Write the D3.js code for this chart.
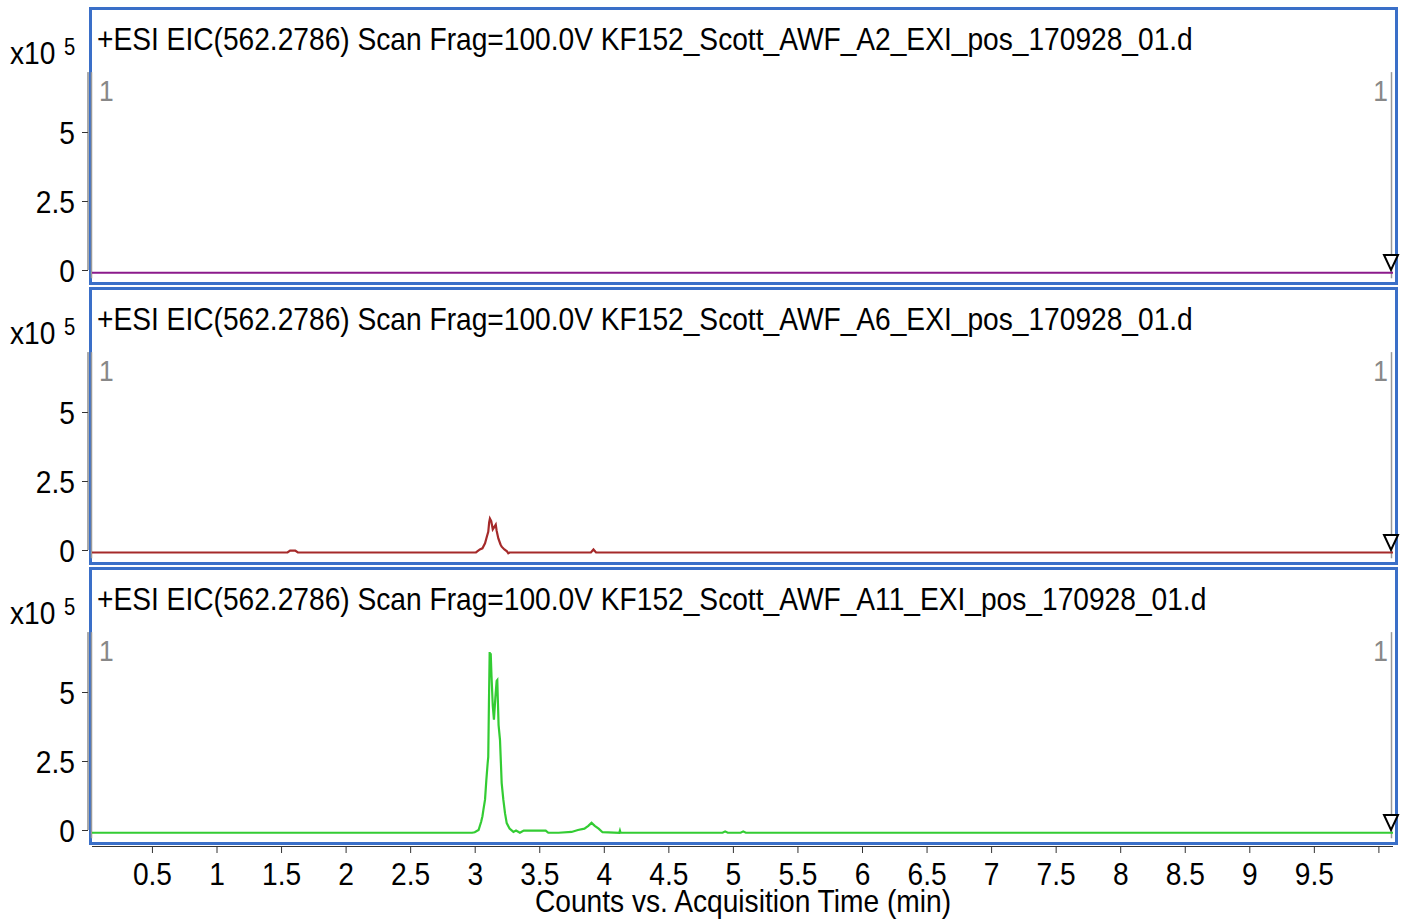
<!DOCTYPE html>
<html>
<head>
<meta charset="utf-8">
<script src="https://cdn.jsdelivr.net/npm/d3@7"></script>
<style>
  body { margin: 0; background: #fff; }
  text { font-family: 'Liberation Sans', Arial, sans-serif; }
</style>
</head>
<body>
<svg id="chart" width="1409" height="920"></svg>
<script>
// sample names shown in each panel title
var samples = ["A2", "A6", "A11"];
var colors = ["#8b1a8b", "#a52a2a", "#33cc33"];

// retention time (min) / counts (x10^5)
var a2_time = [0.03, 10.12];
var a2_val = [-0.1, -0.1];

var a6_time = [0.03, 1.55, 1.57, 1.61, 1.63, 3.01, 3.04, 3.06, 3.08, 3.095, 3.105, 3.112, 3.118, 3.128, 3.14, 3.15, 3.163, 3.17, 3.183, 3.2, 3.209, 3.23, 3.25, 3.26, 3.27, 3.9, 3.92, 3.94, 10.12];
var a6_val = [-0.09, -0.09, -0.02, -0.02, -0.09, -0.09, 0.02, 0.06, 0.24, 0.5, 0.66, 1.0, 1.14, 1.05, 0.75, 0.82, 0.92, 0.7, 0.42, 0.2, 0.12, 0.02, -0.05, -0.12, -0.09, -0.09, 0.02, -0.09, -0.09];

var a11_time = [0.03, 2.98, 3.0, 3.03, 3.05, 3.06, 3.067, 3.08, 3.09, 3.1, 3.105, 3.11, 3.116, 3.12, 3.124, 3.13, 3.14, 3.149, 3.16, 3.17, 3.175, 3.18, 3.185, 3.196, 3.209, 3.222, 3.235, 3.248, 3.27, 3.3, 3.32, 3.35, 3.38, 3.55, 3.57, 3.65, 3.75, 3.8, 3.85, 3.88, 3.905, 3.93, 3.96, 3.99, 4.12, 4.125, 4.13, 4.92, 4.94, 4.96, 5.06, 5.08, 5.1, 10.12];
var a11_val = [-0.1, -0.1, -0.08, 0.0, 0.3, 0.5, 0.72, 1.1, 1.8, 2.4, 2.65, 4.5, 6.45, 6.2, 6.4, 5.6, 4.5, 4.0, 4.8, 5.4, 5.43, 4.6, 3.8, 3.26, 1.7, 1.09, 0.6, 0.25, 0.05, -0.07, -0.02, -0.1, -0.02, -0.02, -0.1, -0.1, -0.07, 0.0, 0.05, 0.15, 0.26, 0.15, 0.05, -0.08, -0.1, -0.02, -0.1, -0.1, -0.05, -0.1, -0.1, -0.05, -0.1, -0.1];

var series_time = [a2_time, a6_time, a11_time];
var series_val = [a2_val, a6_val, a11_val];

var y_ticks = [0, 2.5, 5];
var x_ticks = [0.5, 1, 1.5, 2, 2.5, 3, 3.5, 4, 4.5, 5, 5.5, 6, 6.5, 7, 7.5, 8, 8.5, 9, 9.5, 10];
var x_labels = ["0.5", "1", "1.5", "2", "2.5", "3", "3.5", "4", "4.5", "5", "5.5", "6", "6.5", "7", "7.5", "8", "8.5", "9", "9.5", ""];

var svg = d3.select("#chart");
var panel_step = 280;
var narrow = 0.88;

var x = d3.scaleLinear().domain([0, 10]).range([87.4, 1378.4]);

var lineFunction = d3.line()
    .x(function (d) { return x(d.t); })
    .y(function (d) { return d.y; });

// narrow-looking text: Liberation Sans squeezed horizontally
function addText(g, px, py, str, size, anchor, fill) {
    return g.append("text")
        .attr("transform", "translate(" + px + "," + py + ") scale(" + narrow + ",1)")
        .attr("text-anchor", anchor || "start")
        .attr("font-size", size).attr("fill", fill || "#000")
        .text(str);
}

svg.append("clipPath").attr("id", "clipx")
    .append("rect").attr("x", 92).attr("y", 0).attr("width", 1301).attr("height", 920);

for (var p = 0; p < 3; p++) {
    var off = p * panel_step;
    var y = d3.scaleLinear().domain([0, 5]).range([270 + off, 132 + off]);
    var g = svg.append("g");

    // panel frame
    g.append("rect")
        .attr("x", 90.5).attr("y", 8.5 + off)
        .attr("width", 1306).attr("height", 275)
        .attr("fill", "none").attr("stroke", "#3a6fc8").attr("stroke-width", 3);

    // title
    addText(g, 97, 50 + off,
        "+ESI EIC(562.2786) Scan Frag=100.0V KF152_Scott_AWF_" + samples[p] + "_EXI_pos_170928_01.d", 32);

    // x10^5 label
    addText(g, 10, 64 + off, "x10", 32);
    addText(g, 64, 55 + off, "5", 23);

    // y axis
    var yAxis = d3.axisLeft(y).tickValues(y_ticks).tickSize(6).tickPadding(0)
        .tickFormat(function (d) { return d3.format("")(d); });
    var ya = g.append("g").attr("transform", "translate(88,0)").call(yAxis);
    ya.select(".domain").remove();
    ya.selectAll("line").attr("stroke", "#333");
    ya.selectAll("text")
        .attr("x", null).attr("dy", null)
        .attr("transform", "translate(-13,11) scale(" + narrow + ",1)")
        .attr("font-size", 32).attr("fill", "#000");
    g.append("line").attr("x1", 88).attr("x2", 88)
        .attr("y1", y(7.17)).attr("y2", y(0))
        .attr("stroke", "#555").attr("stroke-width", 1);

    // marker lines with "1"
    [91.5, 1391.5].forEach(function (lx, k) {
        g.append("line")
            .attr("x1", lx).attr("x2", lx)
            .attr("y1", y(7.17)).attr("y2", y(-0.3))
            .attr("stroke", "#999").attr("stroke-width", 1.5);
        addText(g, k === 0 ? 99 : 1388, 101 + off, "1", 30, k === 0 ? "start" : "end", "#888");
    });

    // trace
    var pts = series_time[p].map(function (t, i) { return { t: t, y: y(series_val[p][i]) }; });
    g.append("path")
        .attr("d", lineFunction(pts))
        .attr("clip-path", "url(#clipx)")
        .attr("fill", "none").attr("stroke", colors[p]).attr("stroke-width", 2.2);

    // end triangle
    var tx = 1391, ty = 255 + off;
    g.append("path")
        .attr("d", "M" + (tx - 7) + "," + ty + "L" + (tx + 7) + "," + ty + "L" + tx + "," + (ty + 15) + "Z")
        .attr("fill", "#fff").attr("stroke", "#000").attr("stroke-width", 2);
}

// x axis
var xAxis = d3.axisBottom(x).tickValues(x_ticks).tickSize(7).tickPadding(0)
    .tickFormat(function (d, i) { return x_labels[i]; });
var xa = svg.append("g").attr("transform", "translate(0,846)").call(xAxis);
xa.select(".domain").attr("d", "M92,0.5H1393").attr("stroke", "#333");
xa.selectAll("line").attr("stroke", "#333");
xa.selectAll("text")
    .attr("y", null).attr("dy", null)
    .attr("transform", "translate(0,39) scale(" + narrow + ",1)")
    .attr("font-size", 32).attr("fill", "#000");

addText(svg, 743, 912, "Counts vs. Acquisition Time (min)", 32, "middle");
</script>
</body>
</html>
